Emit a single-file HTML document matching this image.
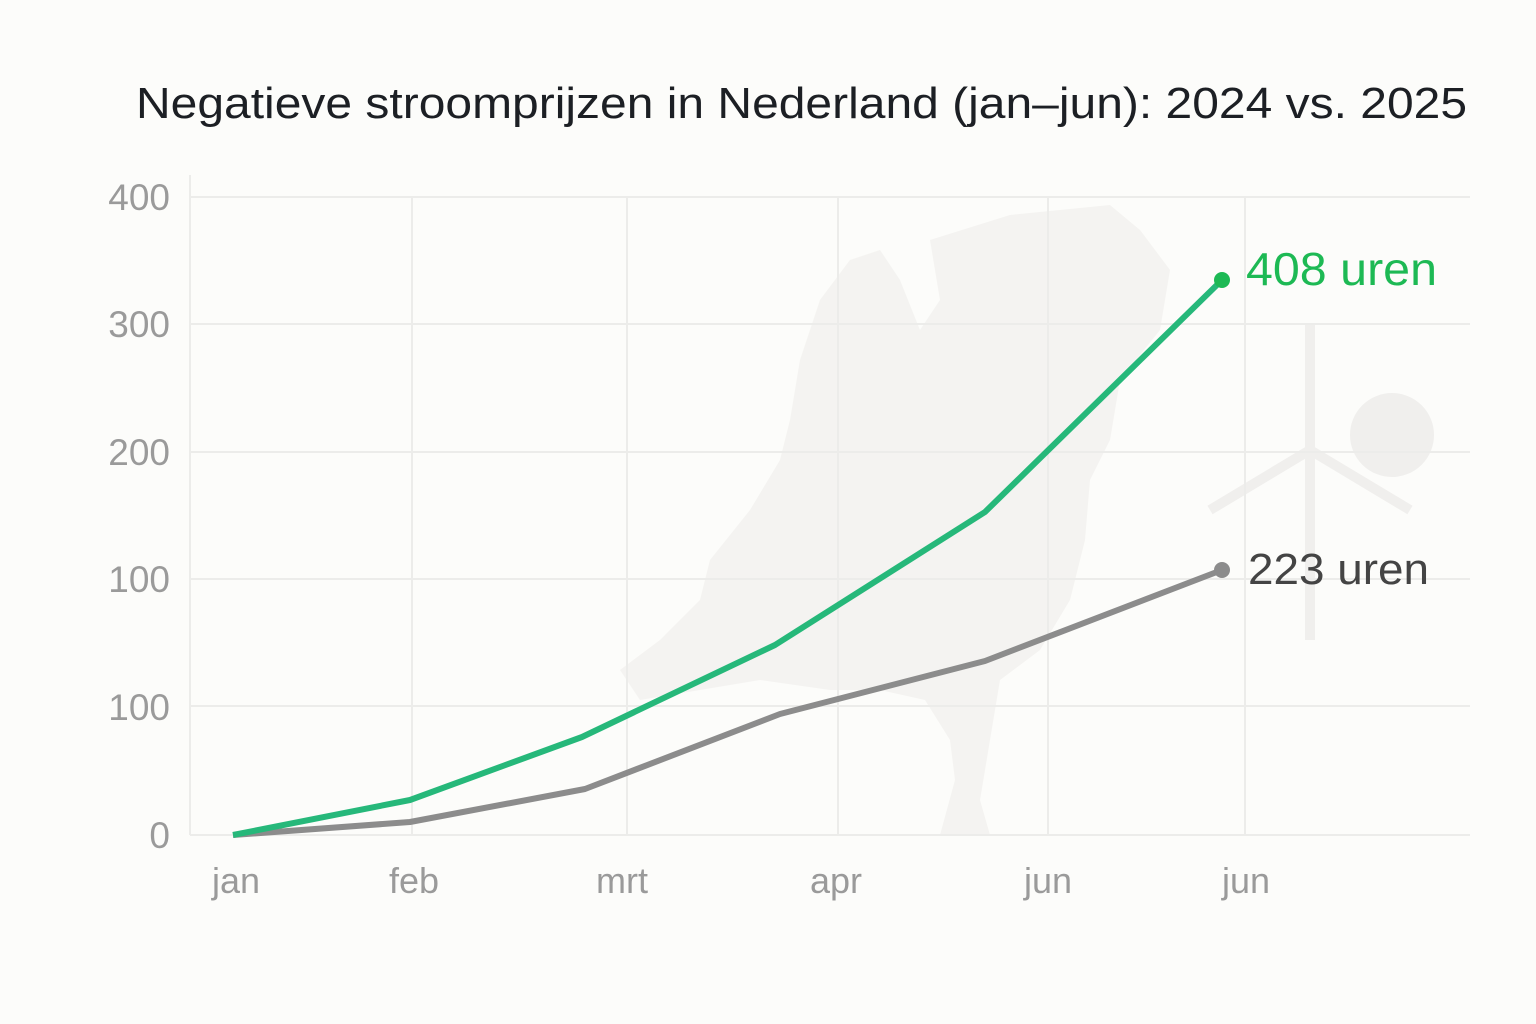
<!DOCTYPE html>
<html><head><meta charset="utf-8"><style>
body{margin:0;background:#fcfcfa;}
svg{display:block}
text{font-family:"Liberation Sans",sans-serif}
</style></head><body>
<svg width="1536" height="1024" viewBox="0 0 1536 1024">
<rect width="1536" height="1024" fill="#fcfcfa"/>
<text x="136" y="118" font-size="44" fill="#1c1f24" textLength="1331" lengthAdjust="spacingAndGlyphs">Negatieve stroomprijzen in Nederland (jan–jun): 2024 vs. 2025</text>
<path d="M930 240 L1010 215 L1110 205 L1140 230 L1170 270 L1160 330 L1120 380 L1110 440 L1090 480 L1085 540 L1070 600 L1040 650 L1000 680 L990 740 L980 800 L990 835 L940 835 L955 780 L950 740 L925 700 L880 690 L830 690 L760 680 L700 690 L640 700 L620 670 L660 640 L700 600 L710 560 L750 510 L780 460 L790 420 L800 360 L820 300 L850 260 L880 250 L900 280 L920 330 L940 300 Z" fill="#f1f0ee" opacity="0.75"/>
<g fill="none" stroke="#f0efed" stroke-width="4">
<circle cx="1392" cy="435" r="40" fill="#f0efed"/>
<line x1="1310" y1="325" x2="1310" y2="640" stroke-width="10"/>
<line x1="1310" y1="450" x2="1210" y2="510" stroke-width="10"/>
<line x1="1310" y1="450" x2="1410" y2="510" stroke-width="10"/>
</g>
<g stroke="#ececea" stroke-width="2">
<line x1="190" y1="197" x2="1470" y2="197"/>
<line x1="190" y1="324" x2="1470" y2="324"/>
<line x1="190" y1="452" x2="1470" y2="452"/>
<line x1="190" y1="579" x2="1470" y2="579"/>
<line x1="190" y1="706" x2="1470" y2="706"/>
<line x1="190" y1="835" x2="1470" y2="835"/>
<line x1="190" y1="175" x2="190" y2="835"/>
<line x1="412" y1="197" x2="412" y2="835"/>
<line x1="627" y1="197" x2="627" y2="835"/>
<line x1="838" y1="197" x2="838" y2="835"/>
<line x1="1048" y1="197" x2="1048" y2="835"/>
<line x1="1245" y1="197" x2="1245" y2="835"/>
</g>
<g font-size="37" fill="#9a9a9a" text-anchor="end">
<text x="170" y="210">400</text><text x="170" y="337">300</text><text x="170" y="465">200</text>
<text x="170" y="592">100</text><text x="170" y="720">100</text><text x="170" y="848">0</text>
</g>
<g font-size="36" fill="#9a9a9a" text-anchor="middle">
<text x="236" y="893">jan</text><text x="414" y="893">feb</text><text x="622" y="893">mrt</text>
<text x="836" y="893">apr</text><text x="1048" y="893">jun</text><text x="1246" y="893">jun</text>
</g>
<polyline points="233,835 410,822 585,789 780,714 985,661 1222,570" fill="none" stroke="#8c8c8c" stroke-width="6" stroke-linejoin="round"/>
<polyline points="233,835 410,800 582,737 775,645 985,512 1222,280" fill="none" stroke="#26b87a" stroke-width="6" stroke-linejoin="round"/>
<circle cx="1222" cy="570" r="8" fill="#8c8c8c"/>
<circle cx="1222" cy="280" r="8" fill="#1db954"/>
<text x="1246" y="285" font-size="46" fill="#1db954" textLength="191" lengthAdjust="spacingAndGlyphs">408 uren</text>
<text x="1248" y="584" font-size="44" fill="#444" textLength="181" lengthAdjust="spacingAndGlyphs">223 uren</text>
</svg>
</body></html>
